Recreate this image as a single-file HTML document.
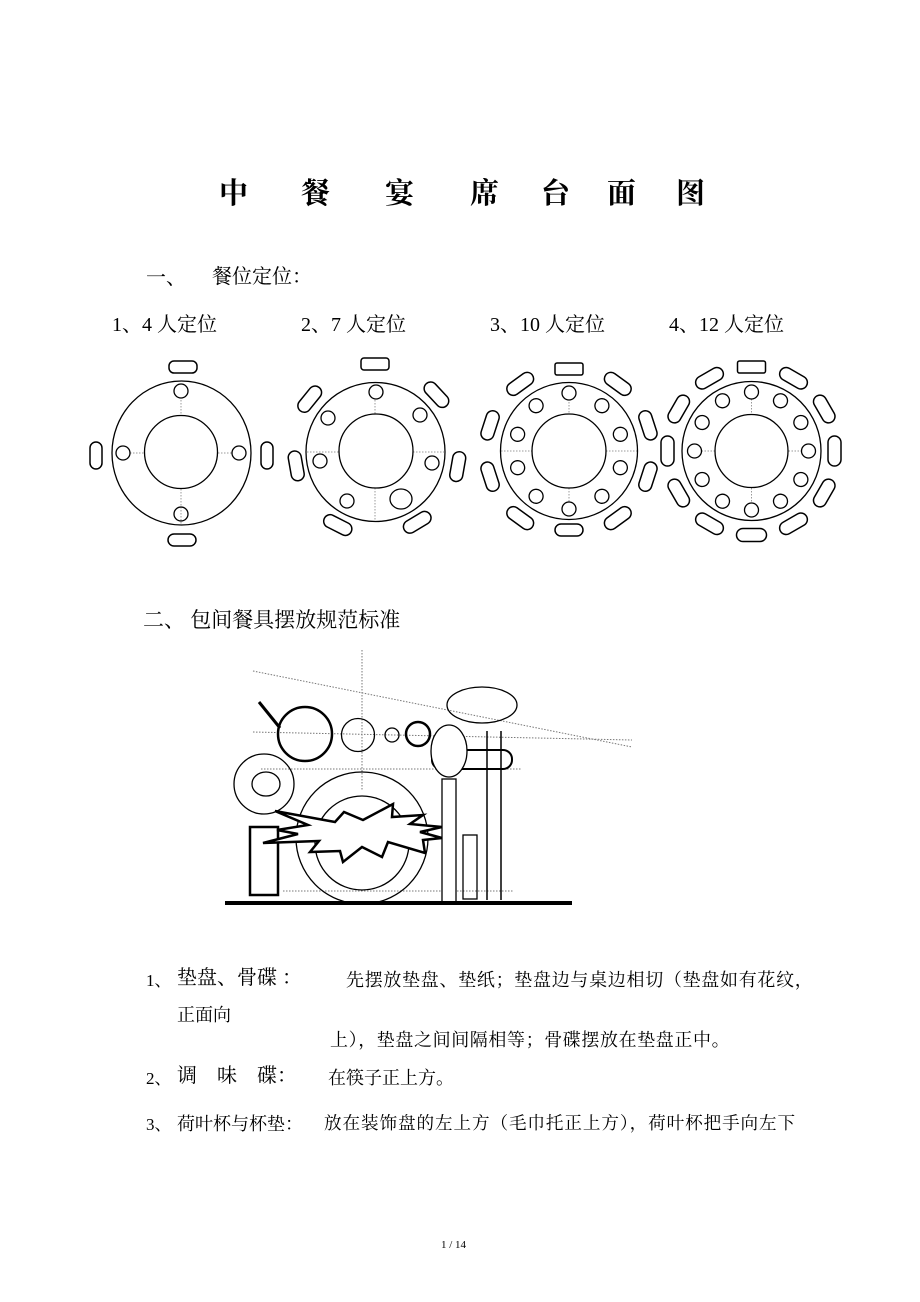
<!DOCTYPE html>
<html><head><meta charset="utf-8"><style>
html,body{margin:0;padding:0;background:#fff}
body{width:920px;height:1302px;position:relative;overflow:hidden;font-family:"Liberation Serif","Noto Serif CJK SC",serif;color:#000}
.t{position:absolute;white-space:nowrap;line-height:1}
svg{position:absolute;left:0;top:0}
</style></head><body>
<div class="t" style="left:219px;top:180px;font-size:29px;font-weight:bold">中</div>
<div class="t" style="left:301px;top:180px;font-size:29px;font-weight:bold">餐</div>
<div class="t" style="left:385px;top:180px;font-size:29px;font-weight:bold">宴</div>
<div class="t" style="left:470px;top:180px;font-size:29px;font-weight:bold">席</div>
<div class="t" style="left:541px;top:180px;font-size:29px;font-weight:bold">台</div>
<div class="t" style="left:607px;top:180px;font-size:29px;font-weight:bold">面</div>
<div class="t" style="left:676px;top:180px;font-size:29px;font-weight:bold">图</div>

<div class="t" style="left:146px;top:268px;font-size:20px">一、</div>
<div class="t" style="left:212px;top:267px;font-size:20px">餐位定位：</div>
<div class="t" style="left:112px;top:315px;font-size:20px">1、4 人定位</div>
<div class="t" style="left:301px;top:315px;font-size:20px">2、7 人定位</div>
<div class="t" style="left:490px;top:315px;font-size:20px">3、10 人定位</div>
<div class="t" style="left:669px;top:315px;font-size:20px">4、12 人定位</div>

<div class="t" style="left:143px;top:610px;font-size:21px">二、 包间餐具摆放规范标准</div>

<div class="t" style="left:146px;top:972px;font-size:17px">1、</div>
<div class="t" style="left:177px;top:968px;font-size:20px">垫盘、骨碟 ：</div>
<div class="t" style="left:346px;top:971px;font-size:18px;letter-spacing:0.7px">先摆放垫盘、垫纸；垫盘边与桌边相切（垫盘如有花纹，</div>
<div class="t" style="left:177px;top:1006px;font-size:18px">正面向</div>
<div class="t" style="left:330px;top:1031px;font-size:18px;letter-spacing:0.6px">上），垫盘之间间隔相等；骨碟摆放在垫盘正中。</div>
<div class="t" style="left:146px;top:1070px;font-size:17px">2、</div>
<div class="t" style="left:177px;top:1066px;font-size:20px">调　味　碟：</div>
<div class="t" style="left:328px;top:1069px;font-size:18px">在筷子正上方。</div>
<div class="t" style="left:146px;top:1116px;font-size:17px">3、</div>
<div class="t" style="left:177px;top:1115px;font-size:18px">荷叶杯与杯垫：</div>
<div class="t" style="left:324px;top:1115px;font-size:17.6px;letter-spacing:0.9px">放在装饰盘的左上方（毛巾托正上方），荷叶杯把手向左下</div>
<div class="t" style="left:441px;top:1240px;font-size:11px">1 / 14</div>

<svg width="920" height="1302" viewBox="0 0 920 1302">
<defs>
<rect id="ch" x="-15" y="-6.5" width="30" height="13" rx="6.5" fill="#fff" stroke="#000" stroke-width="1.5"/>
<circle id="pl" r="7" fill="#fff" stroke="#000" stroke-width="1.3"/>
</defs>
<g fill="none" stroke="#000" stroke-width="1.3">
<g stroke="#999" stroke-dasharray="1.5 1.5" stroke-width="1"><line x1="181" y1="400" x2="181" y2="416"/><line x1="181" y1="489" x2="181" y2="524"/><line x1="130" y1="453" x2="145" y2="453"/><line x1="218" y1="453" x2="232" y2="453"/></g>
<ellipse cx="181.5" cy="453" rx="69.5" ry="72"/>
<circle cx="181" cy="452" r="36.5"/>
<circle cx="181" cy="391" r="7"/><circle cx="181" cy="514" r="7"/><circle cx="123" cy="453" r="7"/><circle cx="239" cy="453" r="7"/>
<rect x="169" y="361" width="28" height="12" rx="5" stroke-width="1.5"/>
<rect x="168" y="534" width="28" height="12" rx="6" stroke-width="1.5"/>
<rect x="90" y="442" width="12" height="27" rx="6" stroke-width="1.5"/>
<rect x="261" y="442" width="12" height="27" rx="6" stroke-width="1.5"/>
<g stroke="#999" stroke-dasharray="1.5 1.5" stroke-width="1"><line x1="375" y1="400" x2="375" y2="414"/><line x1="375" y1="488" x2="375" y2="522"/><line x1="307" y1="452" x2="339" y2="452"/><line x1="413" y1="452" x2="444" y2="452"/></g>
<circle cx="375.5" cy="452" r="69.5"/>
<circle cx="376" cy="451" r="37"/>
<circle cx="376" cy="392" r="7"/><circle cx="328" cy="418" r="7"/><circle cx="420" cy="415" r="7"/><circle cx="320" cy="461" r="7"/><circle cx="432" cy="463" r="7"/><circle cx="347" cy="501" r="7"/><ellipse cx="401" cy="499" rx="11" ry="10"/>
<g transform="translate(375,452)">
<rect x="-14" y="-94" width="28" height="12" rx="3" stroke-width="1.5"/>
<use href="#ch" transform="rotate(-51) translate(0,-84)"/>
<use href="#ch" transform="rotate(47) translate(0,-84)"/>
<use href="#ch" transform="rotate(-100) translate(0,-80)"/>
<use href="#ch" transform="rotate(100) translate(0,-84)"/>
<use href="#ch" transform="rotate(-153) translate(0,-82)"/>
<use href="#ch" transform="rotate(149) translate(0,-82)"/>
</g>
<g transform="translate(569,451)">
<g stroke="#999" stroke-dasharray="1.5 1.5" stroke-width="1"><line x1="0" y1="-52" x2="0" y2="-37"/><line x1="0" y1="37" x2="0" y2="52"/><line x1="-68" y1="0" x2="-37" y2="0"/><line x1="37" y1="0" x2="68" y2="0"/></g>
<circle r="68.5"/><circle r="37"/>
<rect x="-14" y="-88" width="28" height="12" rx="2" stroke-width="1.5"/>
<rect x="-14" y="73" width="28" height="12" rx="6" stroke-width="1.5"/>
<use href="#ch" transform="rotate(36) translate(0,-83)"/><use href="#ch" transform="rotate(72) translate(0,-83)"/><use href="#ch" transform="rotate(108) translate(0,-83)"/><use href="#ch" transform="rotate(144) translate(0,-83)"/>
<use href="#ch" transform="rotate(-36) translate(0,-83)"/><use href="#ch" transform="rotate(-72) translate(0,-83)"/><use href="#ch" transform="rotate(-108) translate(0,-83)"/><use href="#ch" transform="rotate(-144) translate(0,-83)"/>
<use href="#pl" transform="rotate(0) translate(0,-58)"/><use href="#pl" transform="rotate(36) translate(0,-56)"/><use href="#pl" transform="rotate(72) translate(0,-54)"/><use href="#pl" transform="rotate(108) translate(0,-54)"/><use href="#pl" transform="rotate(144) translate(0,-56)"/><use href="#pl" transform="rotate(180) translate(0,-58)"/><use href="#pl" transform="rotate(-36) translate(0,-56)"/><use href="#pl" transform="rotate(-72) translate(0,-54)"/><use href="#pl" transform="rotate(-108) translate(0,-54)"/><use href="#pl" transform="rotate(-144) translate(0,-56)"/>
</g>
<g transform="translate(751.5,451)">
<g stroke="#999" stroke-dasharray="1.5 1.5" stroke-width="1"><line x1="0" y1="-52" x2="0" y2="-37"/><line x1="0" y1="37" x2="0" y2="52"/><line x1="-50" y1="0" x2="-37" y2="0"/><line x1="37" y1="0" x2="50" y2="0"/></g>
<circle r="69.5"/><circle r="36.5"/>
<rect x="-14" y="-90" width="28" height="12" rx="2" stroke-width="1.5"/>
<use href="#ch" transform="rotate(30) translate(0,-84)"/><use href="#ch" transform="rotate(60) translate(0,-84)"/><use href="#ch" transform="rotate(90) translate(0,-83)"/><use href="#ch" transform="rotate(120) translate(0,-84)"/><use href="#ch" transform="rotate(150) translate(0,-84)"/><use href="#ch" transform="rotate(180) translate(0,-84)"/>
<use href="#ch" transform="rotate(-30) translate(0,-84)"/><use href="#ch" transform="rotate(-60) translate(0,-84)"/><use href="#ch" transform="rotate(-90) translate(0,-84)"/><use href="#ch" transform="rotate(-120) translate(0,-84)"/><use href="#ch" transform="rotate(-150) translate(0,-84)"/>
<use href="#pl" transform="rotate(0) translate(0,-59)"/><use href="#pl" transform="rotate(30) translate(0,-58)"/><use href="#pl" transform="rotate(60) translate(0,-57)"/><use href="#pl" transform="rotate(90) translate(0,-57)"/><use href="#pl" transform="rotate(120) translate(0,-57)"/><use href="#pl" transform="rotate(150) translate(0,-58)"/><use href="#pl" transform="rotate(180) translate(0,-59)"/><use href="#pl" transform="rotate(-30) translate(0,-58)"/><use href="#pl" transform="rotate(-60) translate(0,-57)"/><use href="#pl" transform="rotate(-90) translate(0,-57)"/><use href="#pl" transform="rotate(-120) translate(0,-57)"/><use href="#pl" transform="rotate(-150) translate(0,-58)"/>
</g>

<g stroke="#777" stroke-dasharray="1.5 1.5" stroke-width="1">
<line x1="362" y1="650" x2="362" y2="790"/>
<line x1="253" y1="671" x2="632" y2="747"/>
<line x1="253" y1="732" x2="632" y2="740"/>
<line x1="261" y1="769" x2="522" y2="769"/>
<line x1="283" y1="891" x2="514" y2="891"/>
</g>
<line x1="259" y1="702" x2="280" y2="728" stroke-width="3"/>
<circle cx="305" cy="734" r="27" stroke-width="2.5"/>
<circle cx="358" cy="735" r="16.5"/>
<circle cx="392" cy="735" r="7"/>
<circle cx="418" cy="734" r="12" stroke-width="2.5"/>
<ellipse cx="482" cy="705" rx="35" ry="18"/>
<rect x="432" y="750" width="80" height="19" rx="9" stroke-width="2"/>
<ellipse cx="449" cy="751" rx="18" ry="26" fill="#fff"/>
<line x1="487" y1="731" x2="487" y2="900" stroke-width="1.5"/>
<line x1="501" y1="731" x2="501" y2="900" stroke-width="1.5"/>
<circle cx="264" cy="784" r="30"/>
<ellipse cx="266" cy="784" rx="14" ry="12"/>
<circle cx="362" cy="838" r="66"/>
<circle cx="362" cy="843" r="47"/>
<rect x="250" y="827" width="28" height="68" stroke-width="2.5" fill="#fff"/>
<polygon points="275,811 335,822 344,812 363,820 393,804 392,817 423,815 410,824 442,827 420,832 442,838 423,840 425,853 388,842 382,857 362,847 343,862 340,851 310,852 319,841 263,843 298,834 277,830 308,825" fill="#fff" stroke-width="2.5"/>
<rect x="442" y="779" width="14" height="123" fill="#fff"/>
<rect x="463" y="835" width="14" height="64"/>
<line x1="225" y1="903" x2="572" y2="903" stroke-width="4"/>
</g>
</svg>
</body></html>
